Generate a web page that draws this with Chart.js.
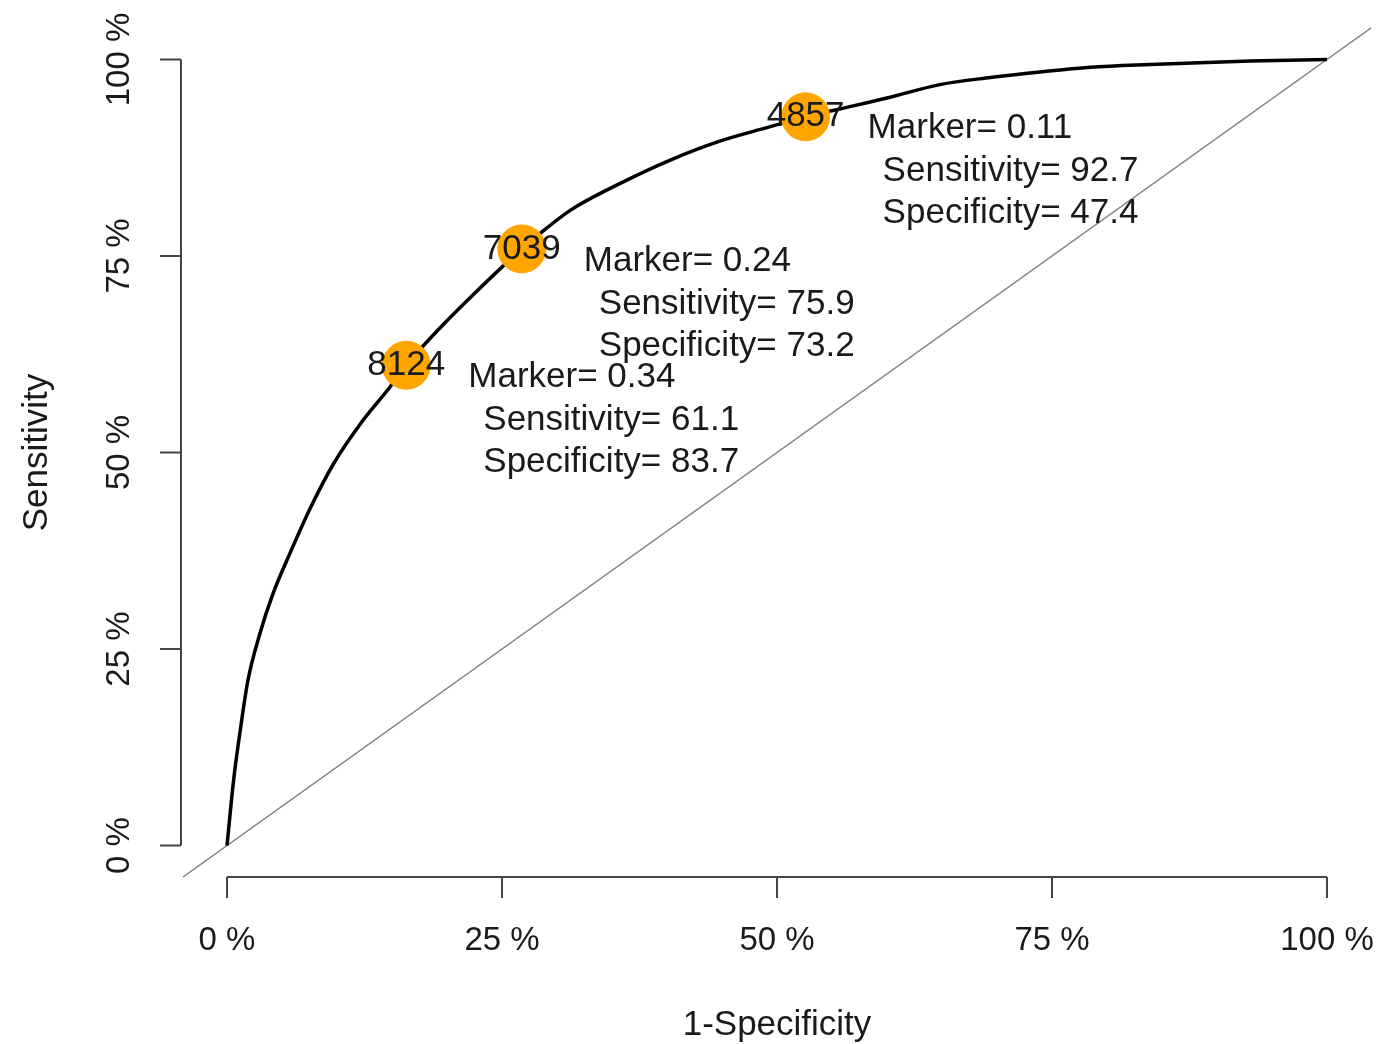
<!DOCTYPE html>
<html>
<head>
<meta charset="utf-8">
<script src="https://cdn.jsdelivr.net/npm/chart.js@4.4.1/dist/chart.umd.min.js"></script>
<style>
  body { margin: 0; background: #fff; }
  #wrap { width: 1396px; height: 1044px; position: relative; }
</style>
</head>
<body>
<div id="wrap"><canvas id="rocChart"></canvas></div>
<script>
// ROC curve (percent)
const fpr = [0, 0.6, 1.2, 1.9, 3.0, 4.2, 5.7, 7.6, 9.7, 12.1, 14.8, 16.3, 19.4, 22.4, 26.8, 28.5, 31.2, 35.7, 40.3, 44.8, 48.5, 52.6, 55.7, 60.3, 64.8, 69.4, 73.9, 78.5, 83.9, 93.0, 100];
const tpr = [0, 8.3, 14.6, 21.0, 27.0, 32.1, 37.1, 43.0, 48.6, 53.6, 58.3, 61.1, 65.9, 70.1, 75.9, 77.9, 80.8, 84.2, 87.2, 89.6, 91.1, 92.7, 93.7, 95.2, 96.8, 97.7, 98.4, 99.0, 99.35, 99.8, 100];

// highlighted cut-offs
const markerIds = ['4857', '7039', '8124'];
const markerCut = [0.11, 0.24, 0.34];
const markerSens = [92.7, 75.9, 61.1];
const markerSpec = [47.4, 73.2, 83.7];

const tickValues = [0, 25, 50, 75, 100];
const tickLabels = ['0 %', '25 %', '50 %', '75 %', '100 %'];
const axisMin = -4;
const axisMax = 104;

const FONT = '"Liberation Sans", Arial, Helvetica, sans-serif';
const TEXT = '#1a1a1a';

// R style axes: line only over the tick range, ticks pointing out
const rAxes = {
    id: 'rAxes',
    afterDraw(chart) {
        const { ctx, chartArea, scales: { x, y } } = chart;
        const last = tickValues.length - 1;
        ctx.save();
        ctx.strokeStyle = '#444';
        ctx.lineWidth = 2;

        const yb = chartArea.bottom;
        ctx.beginPath();
        ctx.moveTo(x.getPixelForValue(tickValues[0]), yb);
        ctx.lineTo(x.getPixelForValue(tickValues[last]), yb);
        tickValues.forEach(v => {
            const px = x.getPixelForValue(v);
            ctx.moveTo(px, yb);
            ctx.lineTo(px, yb + 21);
        });
        const xl = chartArea.left - 2;
        ctx.moveTo(xl, y.getPixelForValue(tickValues[0]));
        ctx.lineTo(xl, y.getPixelForValue(tickValues[last]));
        tickValues.forEach(v => {
            const py = y.getPixelForValue(v);
            ctx.moveTo(xl, py);
            ctx.lineTo(xl - 21, py);
        });
        ctx.stroke();

        ctx.fillStyle = TEXT;
        ctx.font = '33px ' + FONT;
        ctx.textAlign = 'center';
        ctx.textBaseline = 'middle';
        tickValues.forEach((v, i) => {
            ctx.fillText(tickLabels[i], x.getPixelForValue(v), 941);
        });
        tickValues.forEach((v, i) => {
            ctx.save();
            ctx.translate(120, y.getPixelForValue(v));
            ctx.rotate(-Math.PI / 2);
            ctx.fillText(tickLabels[i], 0, 0);
            ctx.restore();
        });

        // axis titles
        ctx.font = '35px ' + FONT;
        ctx.fillText('1-Specificity', x.getPixelForValue(50), 1025);
        ctx.save();
        ctx.translate(37, y.getPixelForValue(50));
        ctx.rotate(-Math.PI / 2);
        ctx.fillText('Sensitivity', 0, 0);
        ctx.restore();

        // marker ids on the points and their annotation
        markerIds.forEach((id, i) => {
            const px = x.getPixelForValue(100 - markerSpec[i]);
            const py = y.getPixelForValue(markerSens[i]);
            ctx.textAlign = 'center';
            ctx.fillText(id, px, py);
            ctx.textAlign = 'left';
            ctx.fillText('Marker= ' + markerCut[i].toFixed(2), px + 62, py + 12);
            ctx.fillText('Sensitivity= ' + markerSens[i].toFixed(1), px + 77, py + 55);
            ctx.fillText('Specificity= ' + markerSpec[i].toFixed(1), px + 77, py + 97);
        });
        ctx.restore();
    }
};

const ctx = document.getElementById('rocChart').getContext('2d');
new Chart(ctx, {
    type: 'scatter',
    data: {
        datasets: [
            {
                label: 'markers',
                data: markerSpec.map((s, i) => ({ x: 100 - s, y: markerSens[i] })),
                backgroundColor: '#FFA500',
                borderColor: '#FFA500',
                pointRadius: 24,
                pointHoverRadius: 24,
                order: 0
            },
            {
                label: 'ROC',
                data: fpr.map((v, i) => ({ x: v, y: tpr[i] })),
                showLine: true,
                borderColor: '#000',
                borderWidth: 3.5,
                pointRadius: 0,
                cubicInterpolationMode: 'monotone',
                order: 1
            },
            {
                label: 'chance',
                data: [{ x: axisMin, y: axisMin }, { x: axisMax, y: axisMax }],
                showLine: true,
                borderColor: '#7a7a7a',
                borderWidth: 1.5,
                pointRadius: 0,
                order: 2
            }
        ]
    },
    options: {
        responsive: true,
        maintainAspectRatio: false,
        animation: false,
        clip: false,
        layout: {
            padding: { left: 183, right: 25, top: 28, bottom: 167 }
        },
        plugins: {
            legend: { display: false },
            tooltip: { enabled: false }
        },
        scales: {
            x: { type: 'linear', min: axisMin, max: axisMax, display: false },
            y: { type: 'linear', min: axisMin, max: axisMax, display: false }
        }
    },
    plugins: [rAxes]
});
</script>
</body>
</html>
